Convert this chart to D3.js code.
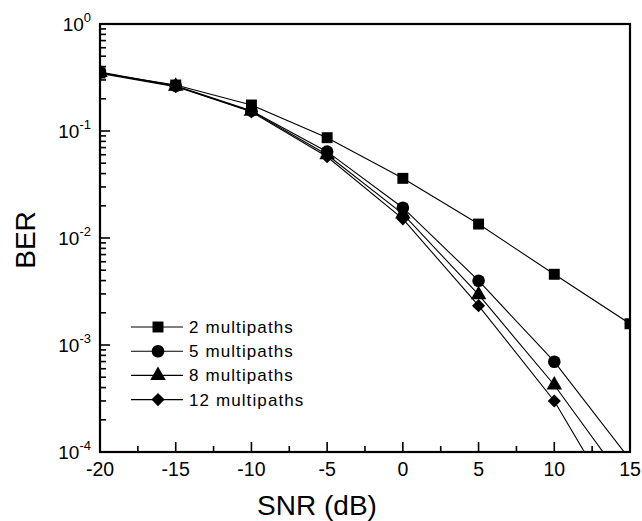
<!DOCTYPE html>
<html><head><meta charset="utf-8">
<script src="https://cdn.jsdelivr.net/npm/d3@7"></script>
<style>body{margin:0;background:#fff}text{font-family:"Liberation Sans",Arial,sans-serif}</style>
</head><body><svg id="c" width="642" height="521"></svg>
<script>
const snr = [-20, -15, -10, -5, 0, 5, 10, 15];
const ber2 = [0.348, 0.269, 0.175, 0.0866, 0.0361, 0.0135, 0.00458, 0.00158];
const ber5 = [0.355, 0.265, 0.155, 0.0641, 0.0192, 0.00399, 0.000698, 0.000085];
const ber8 = [0.352, 0.262, 0.153, 0.0600, 0.0168, 0.00295, 0.000423, 0.000045];
const ber12 = [0.345, 0.260, 0.151, 0.0575, 0.0151, 0.00233, 0.000300, 0.000019];
const seriesNames = ["2 multipaths", "5 multipaths", "8 multipaths", "12 multipaths"];
const xTicks = [-20, -15, -10, -5, 0, 5, 10, 15];
const yTickExps = [0, -1, -2, -3, -4];

const svg = d3.select("#c");
const L = 100, R = 630, T = 24, B = 452;
const x = d3.scaleLinear().domain([-20, 15]).range([L, R]);
const y = d3.scaleLog().domain([1e-4, 1]).range([B, T]);

svg.append("defs").append("clipPath").attr("id", "clip")
  .append("rect").attr("x", L).attr("y", T).attr("width", R - L).attr("height", B - T);

const symbols = [d3.symbolSquare, d3.symbolCircle, d3.symbolTriangle, d3.symbolDiamond2];
const sizes = [120, 125, 105, 110];
const data = [ber2, ber5, ber8, ber12];

const g = svg.append("g").attr("clip-path", "url(#clip)");
const line = d3.line().x((d, i) => x(snr[i])).y(d => y(d));
data.forEach((arr, k) => {
  g.append("path").attr("d", line(arr)).attr("fill", "none").attr("stroke", "#000").attr("stroke-width", 1.1);
});
data.forEach((arr, k) => {
  g.selectAll(null).data(arr).enter().append("path")
    .attr("d", d3.symbol(symbols[k], sizes[k]))
    .attr("transform", (d, i) => `translate(${x(snr[i])},${y(d)})`)
    .attr("fill", "#000");
});

// x axis ticks (inward)
const xAx = svg.append("g");
d3.range(-20, 15.01, 2.5).forEach(v => {
  const major = v % 5 === 0;
  xAx.append("line").attr("x1", x(v)).attr("x2", x(v)).attr("y1", B).attr("y2", B - (major ? 10 : 6))
    .attr("stroke", "#000").attr("stroke-width", 1.6);
});
xAx.selectAll("text").data(xTicks).enter().append("text")
  .attr("x", d => x(d)).attr("y", B + 24).attr("text-anchor", "middle")
  .attr("font-size", 19.5).text(d => d);

// y axis ticks
const yAx = svg.append("g");
for (let e = -4; e < 0; e++) {
  for (let m = 1; m <= 9; m++) {
    const v = m * Math.pow(10, e);
    yAx.append("line").attr("x1", L).attr("x2", L + (m === 1 ? 10 : 6)).attr("y1", y(v)).attr("y2", y(v))
      .attr("stroke", "#000").attr("stroke-width", 1.6);
  }
}
yTickExps.forEach(e => {
  const t = yAx.append("text").attr("x", L - 9).attr("y", y(Math.pow(10, e)) + 7)
    .attr("text-anchor", "end").attr("font-size", 19);
  t.append("tspan").text("10");
  t.append("tspan").attr("dy", -9).attr("font-size", 13).text(e);
});

// frame
svg.append("rect").attr("x", L).attr("y", T).attr("width", R - L).attr("height", B - T)
  .attr("fill", "none").attr("stroke", "#000").attr("stroke-width", 2.2);

// titles
svg.append("text").attr("x", 317).attr("y", 515).attr("text-anchor", "middle").attr("font-size", 28).text("SNR (dB)");
svg.append("text").attr("transform", "translate(35,240) rotate(-90)").attr("text-anchor", "middle")
  .attr("font-size", 28).text("BER");

// legend
const lg = svg.append("g");
seriesNames.forEach((n, k) => {
  const yy = 327 + k * 24.2;
  lg.append("line").attr("x1", 131).attr("x2", 183).attr("y1", yy).attr("y2", yy).attr("stroke", "#000").attr("stroke-width", 1.1);
  lg.append("path").attr("d", d3.symbol(symbols[k], sizes[k])).attr("transform", `translate(158,${yy})`).attr("fill", "#000");
  lg.append("text").attr("x", 189).attr("y", yy + 6).attr("font-size", 17).attr("letter-spacing", 1.1).text(n);
});
</script></body></html>
